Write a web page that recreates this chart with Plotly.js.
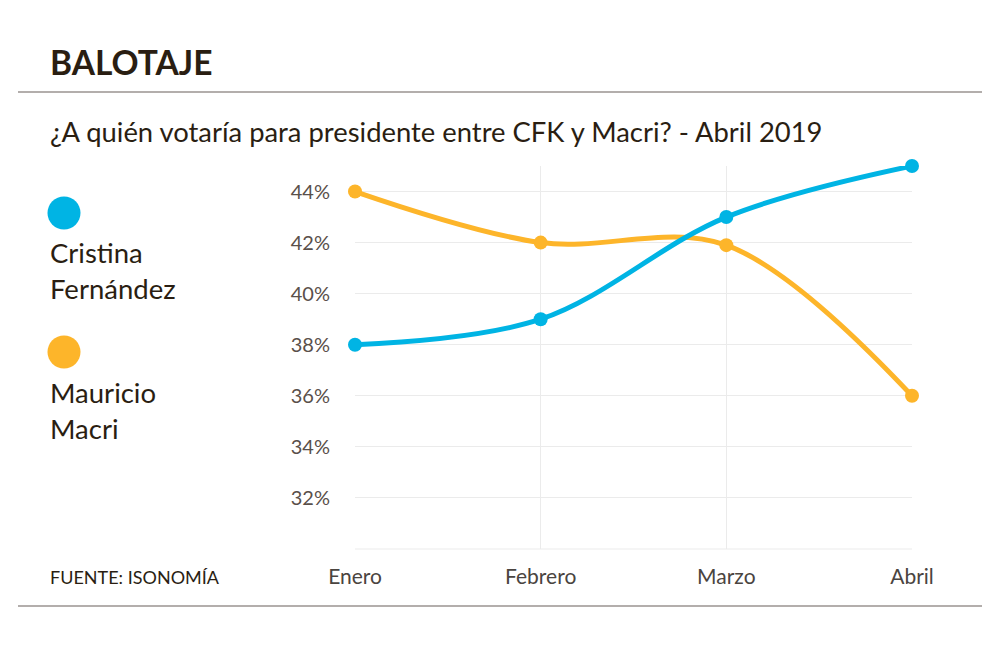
<!DOCTYPE html>
<html>
<head>
<meta charset="utf-8">
<script src="https://cdn.plot.ly/plotly-3.0.1.min.js"></script>
<style>html,body{margin:0;padding:0;background:#fff;}#chart{width:1000px;height:667px;}</style>
</head>
<body>
<div id="chart"></div>
<script>
const months = ["Enero", "Febrero", "Marzo", "Abril"];
const cfk = [38, 39, 43, 45];
const macri = [44, 42, 41.9, 36];
const yTicks = [32, 34, 36, 38, 40, 42, 44];
const yTickText = yTicks.map(v => v + "%");
const seriesNames = ["Cristina<br>Fernández", "Mauricio<br>Macri"];

const BLUE = "#00b4e4";
const ORANGE = "#fdb52a";
const DARK = "#2a1e12";
const FONT = "Lato, 'Open Sans', sans-serif";

function trace(y, color, name) {
  return {
    x: months, y: y, name: name, type: "scatter", mode: "lines+markers",
    line: {color: color, width: 5, shape: "spline", smoothing: 1},
    marker: {color: color, size: 14},
    cliponaxis: false, hoverinfo: "skip", showlegend: false
  };
}

const data = [trace(macri, ORANGE, "Mauricio Macri"), trace(cfk, BLUE, "Cristina Fernández")];

const px = x => (x - 355) / 557;
const py = y => (549 - y) / 383;

const layout = {
  width: 1000, height: 667,
  margin: {l: 355, r: 88, t: 166, b: 118},
  paper_bgcolor: "#fff", plot_bgcolor: "#fff",
  font: {family: FONT, color: DARK},
  xaxis: {
    type: "category", range: [0, 3], showgrid: true, gridcolor: "#ebebeb", gridwidth: 1,
    zeroline: false, showline: false, ticks: "", ticklabelstandoff: 13,
    tickfont: {size: 21, color: "#4a4440", family: FONT}, fixedrange: true
  },
  yaxis: {
    range: [30, 45], tickvals: yTicks, ticktext: yTickText, showgrid: true,
    gridcolor: "#ebebeb", gridwidth: 1, zeroline: false, showline: false, ticks: "",
    ticklabelstandoff: 24, tickfont: {size: 20, color: "#5a504a", family: FONT}, fixedrange: true
  },
  shapes: [
    {type: "line", xref: "paper", yref: "paper", x0: 0, x1: 1, y0: 0, y1: 0, line: {color: "#ebebeb", width: 1}},
    {type: "line", xref: "paper", yref: "paper", x0: px(18), x1: px(982), y0: py(92), y1: py(92), line: {color: "#9a9390", width: 1.3}},
    {type: "line", xref: "paper", yref: "paper", x0: px(18), x1: px(982), y0: py(606), y1: py(606), line: {color: "#9a9390", width: 1.3}},
    {type: "circle", xref: "paper", yref: "paper", xsizemode: "pixel", ysizemode: "pixel",
     xanchor: px(64), yanchor: py(213), x0: -16.5, x1: 16.5, y0: -16.5, y1: 16.5, fillcolor: BLUE, line: {width: 0}},
    {type: "circle", xref: "paper", yref: "paper", xsizemode: "pixel", ysizemode: "pixel",
     xanchor: px(64), yanchor: py(352), x0: -16.5, x1: 16.5, y0: -16.5, y1: 16.5, fillcolor: ORANGE, line: {width: 0}}
  ],
  annotations: [
    {text: "<b>BALOTAJE</b>", xref: "paper", yref: "paper", x: px(48), y: py(62), xanchor: "left", yanchor: "middle",
     showarrow: false, font: {size: 33.5, color: DARK, family: FONT}},
    {text: "¿A quién votaría para presidente entre CFK y Macri? - Abril 2019", xref: "paper", yref: "paper",
     x: px(48), y: py(131), xanchor: "left", yanchor: "middle", showarrow: false, font: {size: 27.4, color: DARK, family: FONT}},
    {text: seriesNames[0], xref: "paper", yref: "paper", x: px(48), y: py(270.5), xanchor: "left", yanchor: "middle",
     align: "left", showarrow: false, font: {size: 27.5, color: DARK, family: FONT}},
    {text: seriesNames[1], xref: "paper", yref: "paper", x: px(48), y: py(410.5), xanchor: "left", yanchor: "middle",
     align: "left", showarrow: false, font: {size: 27.5, color: DARK, family: FONT}},
    {text: "FUENTE: ISONOMÍA", xref: "paper", yref: "paper", x: px(48), y: py(577), xanchor: "left", yanchor: "middle",
     showarrow: false, font: {size: 18, color: DARK, family: FONT}}
  ]
};

Plotly.newPlot("chart", data, layout, {displayModeBar: false, staticPlot: true});
</script>
</body>
</html>
